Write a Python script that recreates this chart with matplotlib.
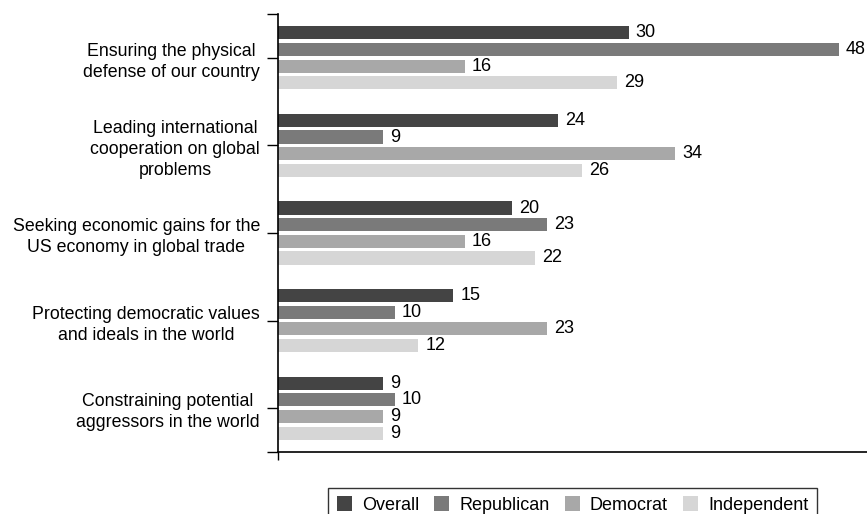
import numpy as np
import matplotlib
matplotlib.use("Agg")
import matplotlib.pyplot as plt

plt.rcParams['font.family'] = ['Liberation Sans', 'DejaVu Sans']

categories = ["Ensuring the physical\ndefense of our country",
              "Leading international\ncooperation on global\nproblems",
              "Seeking economic gains for the\nUS economy in global trade",
              "Protecting democratic values\nand ideals in the world",
              "Constraining potential\naggressors in the world"]
series_names = ["Overall", "Republican", "Democrat", "Independent"]
overall = [30, 24, 20, 15, 9]
republican = [48, 9, 23, 10, 10]
democrat = [16, 34, 16, 23, 9]
independent = [29, 26, 22, 12, 9]
colors = ["#444444", "#7a7a7a", "#a8a8a8", "#d6d6d6"]

fig = plt.figure(figsize=(8.67, 5.14), dpi=100)
ax = fig.add_axes([0.3206, 0.1206, 0.6794, 0.8522])

y = np.arange(len(categories))
pitch = 0.19
height = 0.15
for i, (name, vals) in enumerate(zip(series_names, [overall, republican, democrat, independent])):
    pos = y + (i - 1.5) * pitch
    ax.barh(pos, vals, height=height, color=colors[i], label=name)
    for p, v in zip(pos, vals):
        ax.annotate(str(v), (v, p), xytext=(5, 0), textcoords="offset points",
                    va="center", ha="left", fontsize=13, annotation_clip=False)

ax.set_ylim(len(categories) - 0.5, -0.5)
ax.set_xlim(0, 50.4)
ax.set_yticks(y)
ax.set_yticklabels(categories, fontsize=12.8, multialignment="center", linespacing=1.3)
ax.set_yticks([-0.5, len(categories) - 0.5], minor=True)
ax.tick_params(axis="y", which="both", length=8, width=1, direction="out", pad=5)
ax.set_xticks([0])
ax.set_xticklabels([""])
ax.tick_params(axis="x", length=6, width=1, direction="out")
for s in ["top", "right"]:
    ax.spines[s].set_visible(False)
ax.spines["left"].set_linewidth(1.2)
ax.spines["bottom"].set_linewidth(1.2)

leg = fig.legend(loc="upper center", bbox_to_anchor=(0.6603, 0.0506), ncol=4,
                 fontsize=13, frameon=True, fancybox=False, edgecolor="black",
                 handlelength=0.85, handleheight=0.85, handletextpad=0.55,
                 columnspacing=0.83, borderpad=0.45, borderaxespad=0)
leg.get_frame().set_linewidth(1.0)

fig.savefig("out.png", dpi=100)
